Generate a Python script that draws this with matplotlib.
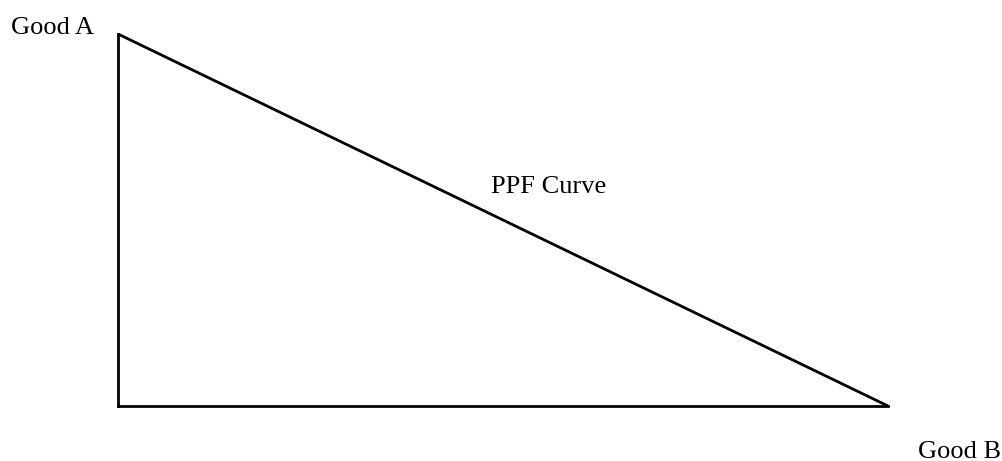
import matplotlib
matplotlib.use('Agg')
import matplotlib.pyplot as plt

# PPF endpoints (units of each good)
good_b = [0, 10]
good_a = [10, 0]

plt.rcParams['font.family'] = ['Liberation Serif', 'DejaVu Serif']

W, H = 1003, 461
fig = plt.figure(figsize=(W / 100, H / 100), dpi=100)
ax = fig.add_axes([118 / W, (H - 406) / H, 770 / W, 372 / H])

ax.plot(good_b, good_a, color='black', lw=2, clip_on=False, solid_capstyle='butt')

ax.set_xlim(0, 10)
ax.set_ylim(0, 10)
for s in ['top', 'right']:
    ax.spines[s].set_visible(False)
for s in ['left', 'bottom']:
    ax.spines[s].set_linewidth(2)
ax.set_xticks([])
ax.set_yticks([])

fig.text(11 / W, 1 - 34 / H, 'Good A', fontsize=19, ha='left', va='baseline')
fig.text(491 / W, 1 - 193 / H, 'PPF Curve', fontsize=19, ha='left', va='baseline')
fig.text(918 / W, 1 - 458 / H, 'Good B', fontsize=19, ha='left', va='baseline')

fig.savefig('out.png', dpi=100)
